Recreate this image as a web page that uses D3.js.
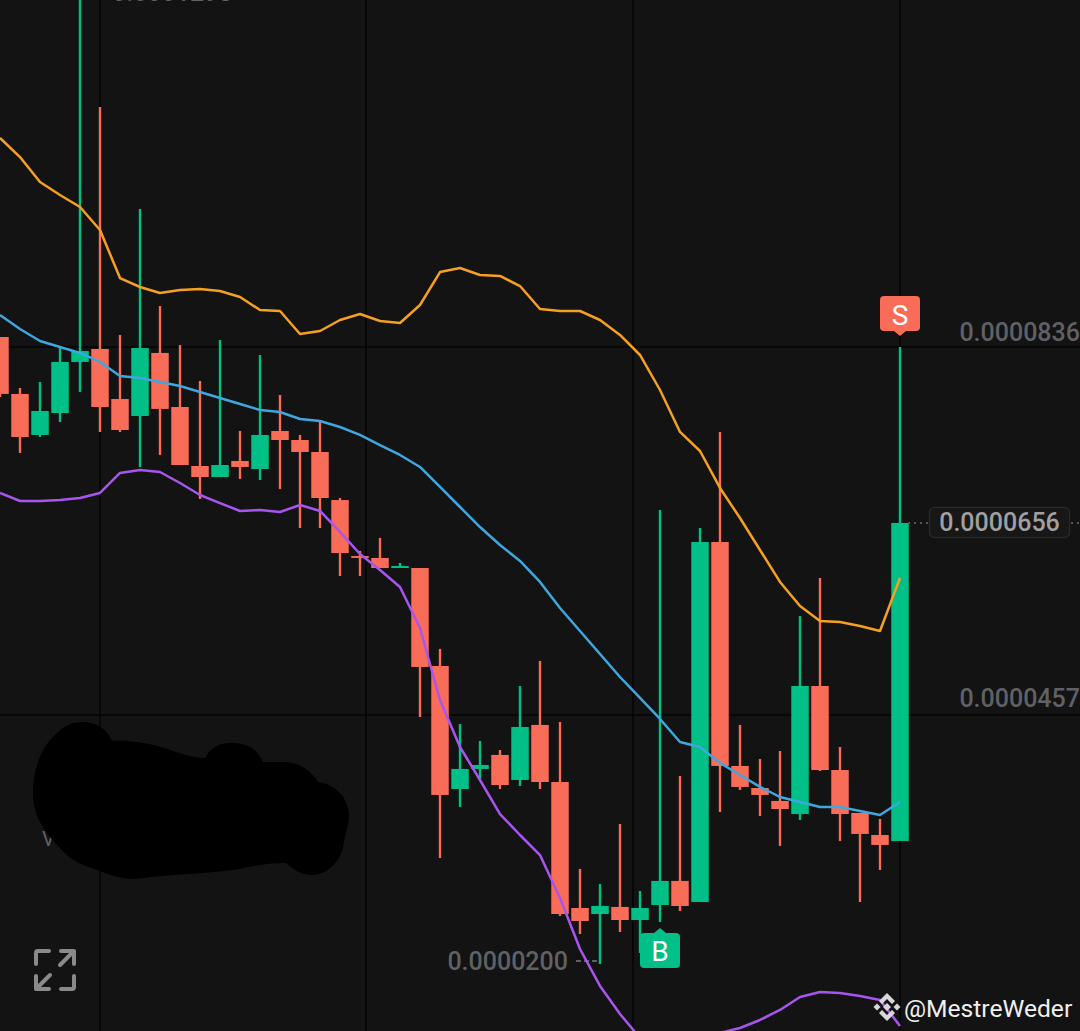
<!DOCTYPE html>
<html><head><meta charset="utf-8">
<script src="https://cdnjs.cloudflare.com/ajax/libs/d3/7.8.5/d3.min.js"></script>
<style>html,body{margin:0;padding:0;background:#131313;overflow:hidden}svg{display:block}text{font-family:Roboto,sans-serif}</style>
</head><body><div id="c"></div>
<script>
// Prices in units of 0.0000001
const opens=[845.3,786.4,744.0,766.7,819.5,832.9,781.2,763.6,828.8,772.9,711.9,700.5,717.1,708.8,748.1,738.8,726.4,676.7,618.8,616.8,606.4,606.4,505.1,377.9,398.6,413.1,387.2,444.1,385.1,254.8,248.6,255.9,242.4,257.9,282.8,261.0,633.3,401.7,378.9,365.5,352.0,484.4,397.5,353.1,330.3,324.1];
const closes=[786.4,741.9,768.8,819.5,830.8,772.9,749.1,833.9,770.9,712.9,700.5,712.9,710.9,744.0,738.8,726.4,678.8,621.9,616.8,606.4,608.5,504.1,371.7,398.6,402.7,382.0,442.0,385.1,248.6,241.4,256.9,242.4,254.8,282.8,256.9,633.3,401.7,380.0,371.7,357.2,484.4,397.5,352.0,331.4,320.0,653.0];
const highs=[845.3,792.6,798.8,835.0,1204.1,1083.2,847.4,977.7,877.4,837.0,799.8,842.2,748.1,826.7,785.3,744.0,757.4,678.8,624.0,637.5,611.6,606.4,522.7,445.1,427.5,418.2,484.4,510.3,447.2,295.2,279.7,341.7,272.4,666.4,391.3,647.8,747.1,444.1,408.9,417.2,556.8,596.1,421.3,353.1,346.9,835.0];
const lows=[783.3,725.4,741.9,757.4,788.4,747.1,747.1,710.9,723.3,712.9,677.8,700.5,698.5,697.4,688.1,647.8,647.8,598.2,598.2,606.4,606.4,452.3,306.5,359.3,388.2,377.9,381.0,377.9,246.6,227.9,196.9,230.0,208.3,240.4,251.7,261.0,354.1,376.9,350.0,319.0,345.8,396.5,324.1,261.0,294.1,324.1];
const upperBand=[1051.1,1031.4,1005.6,992.2,979.7,956.0,906.3,897.0,890.8,893.9,894.9,892.9,886.7,873.2,872.2,848.4,851.5,862.9,869.1,861.9,859.8,878.4,912.5,916.7,909.4,908.4,898.0,874.3,872.2,872.2,862.9,847.4,826.7,790.5,747.1,727.4,689.2,658.1,625.0,592.0,567.1,551.6,550.6,546.5,541.3,596.1];
const middleBand=[868.1,853.6,841.2,835.0,828.8,819.5,805.0,802.9,798.8,794.6,788.4,782.2,776.0,769.8,767.8,760.5,758.4,752.2,744.0,733.6,723.3,710.9,690.2,669.5,648.8,630.2,613.7,592.0,565.1,541.3,517.5,493.7,472.0,450.3,426.5,421.3,404.8,392.4,380.0,369.6,364.5,359.3,359.3,355.1,351.0,364.5];
const lowerBand=[684.0,675.7,675.7,676.7,678.8,684.0,704.7,707.8,705.7,694.3,681.9,673.6,665.4,666.4,664.3,671.6,665.4,643.7,620.9,604.4,586.8,544.4,469.9,421.3,387.2,352.0,330.3,309.6,265.2,212.4,174.2,145.2,120.4,112.1,110.1,114.2,125.6,130.7,139.0,149.4,162.8,168.0,166.9,163.8,159.7,132.8];
const gridPrices=[835,454.4];
const gridCandles=[5,18.3,31.65,45];
const buyIndex=33, sellIndex=45;

const W=1080,H=1031;
const UP="#00c087",DOWN="#f96c58",BG="#131313";
const x=d3.scaleLinear().domain([0,45]).range([0,900]);
const y=d3.scaleLinear().domain([836,200]).range([346,961]);
const svg=d3.select("#c").append("svg").attr("width",W).attr("height",H).attr("viewBox",`0 0 ${W} ${H}`);
svg.append("rect").attr("width",W).attr("height",H).attr("fill",BG);

// grid
svg.append("g").selectAll("line").data(gridPrices).join("line")
 .attr("x1",0).attr("x2",W).attr("y1",d=>y(d)).attr("y2",d=>y(d)).attr("stroke","#050505").attr("stroke-width",1.5);
svg.append("g").selectAll("line").data(gridCandles).join("line")
 .attr("y1",0).attr("y2",H).attr("x1",d=>x(d)).attr("x2",d=>x(d)).attr("stroke","#050505").attr("stroke-width",1.5);

// clipped top label
svg.append("text").attr("x",112).attr("y",1).attr("font-size",25).attr("font-weight",500).attr("fill","#5f6165").text("0.0001293");

// price labels
const label=(t,xp,yp,fill)=>svg.append("text").attr("x",xp).attr("y",yp).attr("text-anchor","end").attr("dominant-baseline","central").attr("font-size",25).attr("font-weight",500).attr("fill",fill||"#5f6165").text(t);
label("0.0000836",1080,332);
label("0.0000457",1080,698);
label("0.0000200",568,961);
svg.append("line").attr("x1",576).attr("x2",600).attr("y1",y(200)).attr("y2",y(200)).attr("stroke","#5f6165").attr("stroke-width",2).attr("stroke-dasharray","5 3");

// candles
const idx=d3.range(opens.length);
const g=svg.append("g");
idx.forEach(i=>{
  const c=closes[i]>=opens[i]?UP:DOWN;
  const xp=x(i);
  g.append("line").attr("x1",xp).attr("x2",xp).attr("y1",y(highs[i])).attr("y2",y(lows[i])).attr("stroke",c).attr("stroke-width",2.4);
  const t=y(Math.max(opens[i],closes[i])),b=y(Math.min(opens[i],closes[i]));
  g.append("rect").attr("x",xp-8.75).attr("width",17.5).attr("y",t).attr("height",Math.max(1.5,b-t)).attr("fill",c);
});

// bands
const lineGen=d3.line().x((d,i)=>x(i)).y(d=>y(d));
[[upperBand,"#f5a020"],[middleBand,"#3fa7e0"],[lowerBand,"#a855f0"]].forEach(([d,c])=>{
  svg.append("path").attr("d",lineGen(d)).attr("fill","none").attr("stroke",c).attr("stroke-width",2.5).attr("stroke-linejoin","round");
});

// current price tag
const cur=y(653);
svg.append("line").attr("x1",908).attr("x2",930).attr("y1",cur).attr("y2",cur).attr("stroke","#555").attr("stroke-width",2).attr("stroke-dasharray","2 4");
svg.append("line").attr("x1",1071).attr("x2",1080).attr("y1",cur).attr("y2",cur).attr("stroke","#555").attr("stroke-width",2).attr("stroke-dasharray","2 4");
svg.append("rect").attr("x",929.5).attr("y",cur-15.5).attr("width",140).attr("height",30).attr("rx",5).attr("fill","#171717").attr("stroke","#2a2a2c").attr("stroke-width",1.2);
svg.append("text").attr("x",999.5).attr("y",cur).attr("text-anchor","middle").attr("dominant-baseline","central").attr("font-size",25).attr("font-weight",500).attr("fill","#a0a0a2").text("0.0000656");

// signal markers
function marker(cx,top,color,txt,up){
  const w=40,h=40,r=4,tip=5;
  const l=cx-w/2,rr=cx+w/2;
  let p;
  if(up){ const t=top+tip,b=t+h-tip;
    p=`M${l+r},${t}L${cx-6},${t}L${cx},${top}L${cx+6},${t}L${rr-r},${t}Q${rr},${t} ${rr},${t+r}L${rr},${b-r}Q${rr},${b} ${rr-r},${b}L${l+r},${b}Q${l},${b} ${l},${b-r}L${l},${t+r}Q${l},${t} ${l+r},${t}Z`;
  } else { const t=top,b=t+h-tip;
    p=`M${l+r},${t}L${rr-r},${t}Q${rr},${t} ${rr},${t+r}L${rr},${b-r}Q${rr},${b} ${rr-r},${b}L${cx+6},${b}L${cx},${b+tip}L${cx-6},${b}L${l+r},${b}Q${l},${b} ${l},${b-r}L${l},${t+r}Q${l},${t} ${l+r},${t}Z`;
  }
  svg.append("path").attr("d",p).attr("fill",color);
  svg.append("text").attr("x",cx).attr("y",up?top+tip+(h-tip)/2+1:top+(h-tip)/2+2).attr("text-anchor","middle").attr("dominant-baseline","central").attr("font-size",28).attr("fill","#fff").text(txt);
}
marker(x(buyIndex),928,UP,"B",true);
marker(x(sellIndex),296,DOWN,"S",false);

// faint letter under the redaction, then the redaction scribble
svg.append("text").attr("x",42).attr("y",846).attr("font-size",20).attr("fill","#5f6165").text("V");
svg.append("path").attr("fill","#000").attr("d","M82,722C100,722 108,732 112,741C125,740 145,742 165,748C180,754 195,758 205,758C212,745 222,743 232,743C248,743 258,750 263,762L285,762C300,762 312,772 318,782C335,784 349,798 349,816C349,825 345,835 344,842C342,860 328,875 312,875C300,875 292,868 286,863C275,863 260,864 240,869C215,873 180,874 150,877C135,880 120,880 100,871C85,866 72,862 62,850C50,838 38,825 34,805C30,780 38,750 55,735C63,726 72,722 82,722Z");

// expand icon
const ic=svg.append("g").attr("fill","none").attr("stroke","#8a8a8a").attr("stroke-width",4).attr("stroke-linecap","round").attr("stroke-linejoin","round");
ic.append("path").attr("d","M36,964L36,953Q36,951 38,951L49,951");
ic.append("path").attr("d","M61,951L74,951L74,964M74,951L60,965");
ic.append("path").attr("d","M36,976L36,989L49,989M36,989L50,975");
ic.append("path").attr("d","M74,976L74,987Q74,989 72,989L61,989");

// watermark
const lg=svg.append("g").attr("fill","#d8d8d8");
lg.append("path").attr("d","M887,993L895,1001L892,1004L887,999L882,1004L879,1001Z");
lg.append("path").attr("d","M887,1021L895,1013L892,1010L887,1015L882,1010L879,1013Z");
lg.append("path").attr("d","M887,1003L891,1007L887,1011L883,1007Z");
lg.append("path").attr("d","M877,1003.5L880.5,1007L877,1010.5L873.5,1007Z");
lg.append("path").attr("d","M897,1003.5L900.5,1007L897,1010.5L893.5,1007Z");
svg.append("text").attr("x",904).attr("y",1008).attr("dominant-baseline","central").attr("font-size",24.6).attr("fill","#f0f0f0").text("@MestreWeder");
</script></body></html>
